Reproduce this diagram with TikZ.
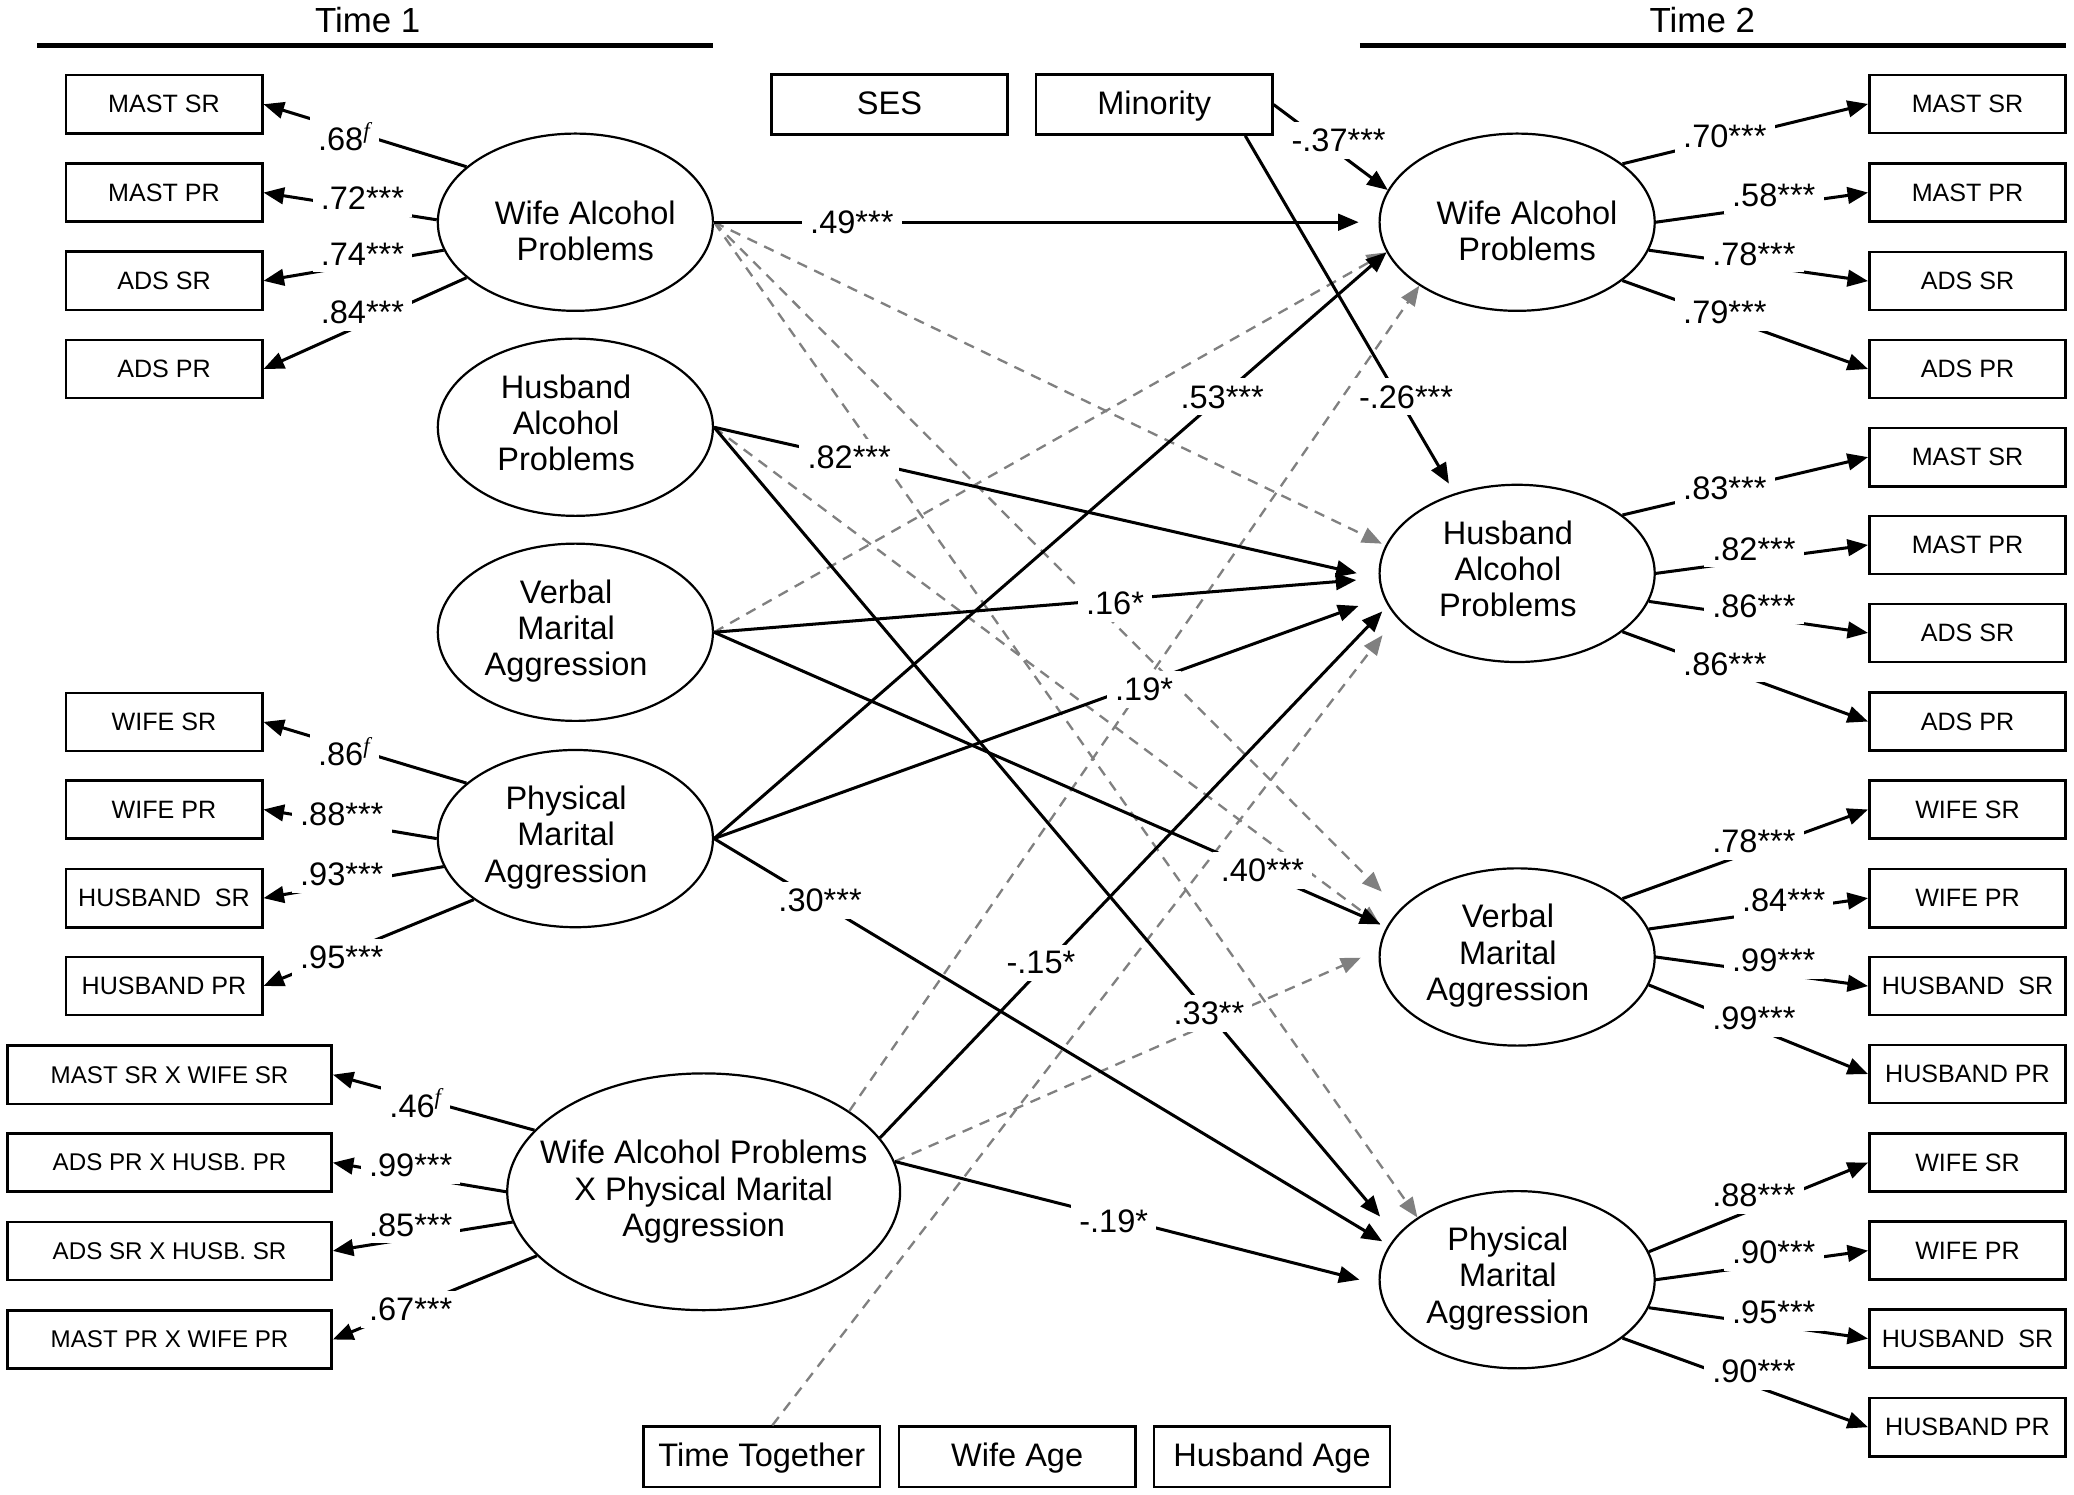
\documentclass[tikz,border=0pt]{standalone}
\usepackage{fontspec}
\setmainfont{Liberation Sans}
\newfontfamily\seriff{Liberation Serif}
\usetikzlibrary{shapes.geometric}
\usetikzlibrary{arrows.meta}
\tikzset{
    lvar/.style = {ellipse, draw=black, line width=0.95pt, inner sep=0pt, inner xsep=-2mm, align=center, minimum width=41.6mm, minimum height=26.8mm, font=\fontsize{14}{15.6}\selectfont},
    ivar/.style = {lvar, minimum width=59.4mm, minimum height=35.8mm, inner xsep=-4mm},
    ibox/.style = {rectangle, draw=black, line width=1.1pt, minimum width=29.7mm, minimum height=8.8mm, inner sep=0pt, font=\fontsize{10.8}{12}\selectfont},
    xbox/.style = {ibox, minimum width=49mm, font=\fontsize{10.4}{12}\selectfont},
    cbox/.style = {ibox, minimum width=35.7mm, minimum height=9.1mm, text height=3.5mm, text depth=0.5mm, font=\fontsize{14}{16}\selectfont},
    coef/.style = {fill=white, inner xsep=3.5pt, inner ysep=3pt, font=\fontsize{14}{16}\selectfont},
    tlabel/.style = {font=\fontsize{15}{18}\selectfont},
    edgen/.style = {-{Triangle[length=3.1mm,width=2.5mm]}, line width=1.3pt, black},
    edgegd/.style = {-{Triangle[length=3mm,width=2.4mm]}, line width=1pt, gray, dash pattern=on 1.6mm off 1.2mm}, % nonsignificant
}
\newcommand{\fixd}[1]{#1\textsuperscript{\seriff\itshape f}}
% two-line text sits low and right, three-line text a bit left
\newcommand{\twol}[2]{\raisebox{-2mm}[\height][\depth]{\hspace*{3mm}\begin{tabular}{@{}c@{}}#1\\#2\end{tabular}}}
\newcommand{\threel}[3]{\begin{tabular}{@{}c@{}}#1\\#2\\#3\end{tabular}\hspace*{2.8mm}}

\begin{document}
\begin{tikzpicture}[x=0.2mm, y=-0.2mm]
\useasboundingbox (0,0) rectangle (1568,1130);
% time headers
\node[tlabel] at (278,15) (t1) {Time 1};
\node[tlabel] at (1287,15) (t2) {Time 2};
\draw[line width=2.4pt] (28,34.4) -- (539,34.4);
\draw[line width=2.4pt] (1028,34.4) -- (1562,34.4);
%
\node[lvar] at (435,168) (wap1) {\twol{Wife Alcohol}{Problems}};
\node[lvar] at (435,323) (hap1) {\threel{Husband}{Alcohol}{Problems}};
\node[lvar] at (435,478) (vma1) {\threel{Verbal}{Marital}{Aggression}};
\node[lvar] at (435,634) (pma1) {\threel{Physical}{Marital}{Aggression}};
\node[ivar] at (532,901) (int) {Wife Alcohol Problems\\X Physical Marital\\Aggression};
\node[lvar] at (1147,168) (wap2) {\twol{Wife Alcohol}{Problems}};
\node[lvar] at (1147,433.5) (hap2) {\threel{Husband}{Alcohol}{Problems}};
\node[lvar] at (1147,723.5) (vma2) {\threel{Verbal}{Marital}{Aggression}};
\node[lvar] at (1147,967.5) (pma2) {\threel{Physical}{Marital}{Aggression}};
%
\node[cbox] at (672.5,79) (ses) {SES};
\node[cbox] at (872.6,79) (minority) {Minority};
\node[cbox] at (575.9,1101.3) (tt) {Time Together};
\node[cbox] at (769,1101.3) (wage) {Wife Age};
\node[cbox] at (961.7,1101.3) (hage) {Husband Age};
% indicators time 1
\node[ibox] at (124,78.8) (a1) {MAST SR};
\node[ibox] at (124,145.6) (a2) {MAST PR};
\node[ibox] at (124,212.3) (a3) {ADS SR};
\node[ibox] at (124,279) (a4) {ADS PR};
\node[ibox] at (124,545.8) (p1) {WIFE SR};
\node[ibox] at (124,612) (p2) {WIFE PR};
\node[ibox] at (124,679) (p3) {HUSBAND~ SR};
\node[ibox] at (124,745.4) (p4) {HUSBAND PR};
\node[xbox] at (128.2,812.5) (x1) {MAST SR X WIFE SR};
\node[xbox] at (128.2,879) (x2) {ADS PR X HUSB. PR};
\node[xbox] at (128.2,945.7) (x3) {ADS SR X HUSB. SR};
\node[xbox] at (128.2,1012.7) (x4) {MAST PR X WIFE PR};
% indicators time 2
\node[ibox] at (1487.5,78.6) (wa1) {MAST SR};
\node[ibox] at (1487.5,145.6) (wa2) {MAST PR};
\node[ibox] at (1487.5,212.5) (wa3) {ADS SR};
\node[ibox] at (1487.5,279) (wa4) {ADS PR};
\node[ibox] at (1487.5,345.6) (ha1) {MAST SR};
\node[ibox] at (1487.5,412) (ha2) {MAST PR};
\node[ibox] at (1487.5,478.5) (ha3) {ADS SR};
\node[ibox] at (1487.5,545.5) (ha4) {ADS PR};
\node[ibox] at (1487.5,612) (va1) {WIFE SR};
\node[ibox] at (1487.5,679) (va2) {WIFE PR};
\node[ibox] at (1487.5,745.5) (va3) {HUSBAND~ SR};
\node[ibox] at (1487.5,812) (va4) {HUSBAND PR};
\node[ibox] at (1487.5,879) (pa1) {WIFE SR};
\node[ibox] at (1487.5,945.5) (pa2) {WIFE PR};
\node[ibox] at (1487.5,1012) (pa3) {HUSBAND~ SR};
\node[ibox] at (1487.5,1079) (pa4) {HUSBAND PR};
%
\draw[edgen] (wap1.153) -- (a1.east);
\draw[edgen] (wap1.179) -- (a2.east);
\draw[edgen] (wap1.192) -- (a3.east);
\draw[edgen] (wap1.207) -- (a4.east);
\draw[edgen] (pma1.153) -- (p1.east);
\draw[edgen] (pma1.180) -- (p2.east);
\draw[edgen] (pma1.192) -- (p3.east);
\draw[edgen] (pma1.211) -- (p4.east);
\draw[edgen] (int.160) -- (x1.east);
\draw[edgen] (int.180) -- (x2.east);
\draw[edgen] (int.189) -- (x3.east);
\draw[edgen] (int.201) -- (x4.east);
\draw[edgen] (wap2.29) -- (wa1.west);
\draw[edgen] (wap2.0) -- (wa2.west);
\draw[edgen] (wap2.-12) -- (wa3.west);
\draw[edgen] (wap2.-29) -- (wa4.west);
\draw[edgen] (hap2.29) -- (ha1.west);
\draw[edgen] (hap2.0) -- (ha2.west);
\draw[edgen] (hap2.-12) -- (ha3.west);
\draw[edgen] (hap2.-29) -- (ha4.west);
\draw[edgen] (vma2.29) -- (va1.west);
\draw[edgen] (vma2.12) -- (va2.west);
\draw[edgen] (vma2.0) -- (va3.west);
\draw[edgen] (vma2.-12) -- (va4.west);
\draw[edgen] (pma2.12) -- (pa1.west);
\draw[edgen] (pma2.0) -- (pa2.west);
\draw[edgen] (pma2.-12) -- (pa3.west);
\draw[edgen] (pma2.-29) -- (pa4.west);
% dashed paths
\draw[edgegd, shorten >=0.6mm] (wap1.east) -- (hap2.168);
\draw[edgegd, shorten >=3.8mm] (wap1.east) -- (vma2.158);
\draw[edgegd] (wap1.east) -- (pma2.148);
\draw[edgegd, shorten >=1mm] (hap1.east) -- (vma2.168);
\draw[edgegd] (vma1.east) -- (wap2.193);
\draw[edgegd] (int.29) -- (wap2.213);
\draw[edgegd, shorten >=3mm] (int.9) -- (vma2.177);
\draw[edgegd, shorten >=3.4mm] ([xshift=1.6mm]tt.north) -- (hap2.200);
% structural paths
\draw[edgen, shorten >=3mm] (wap1.east) -- (wap2.west);
\draw[edgen, shorten >=3.4mm] (hap1.east) -- (hap2.182);
\draw[edgen, shorten >=3.4mm] (vma1.east) -- (hap2.182);
\draw[edgen] (pma1.east) -- (wap2.193);
\draw[edgen, shorten >=4mm] (pma1.east) -- (hap2.190);
\draw[edgen, shorten >=1.2mm] (pma1.east) -- (pma2.165);
\draw[edgen, shorten >=3.8mm] (hap1.east) -- (pma2.160);
\draw[edgen, shorten >=1mm] (vma1.east) -- (vma2.167);
\draw[edgen, shorten >=1.2mm] (int.17) -- (hap2.194);
\draw[edgen, shorten >=3mm] (int.9) -- (pma2.182);
\draw[edgen] (minority.east) -- (wap2.166);
\draw[edgen, shorten >=1.7mm] (minority.-19) -- (hap2.128);
% loadings
\node[coef] at (260.4,103) (l1) {\fixd{.68}};
\node[coef] at (274,150) (l2) {.72***};
\node[coef] at (274,192) (l3) {.74***};
\node[coef] at (274,236) (l4) {.84***};
\node[coef] at (260.4,568) (l5) {\fixd{.86}};
\node[coef] at (258.4,616) (l6) {.88***};
\node[coef] at (258.4,661) (l7) {.93***};
\node[coef] at (258.4,724) (l8) {.95***};
\node[coef] at (314.4,834) (l9) {\fixd{.46}};
\node[coef] at (310.5,881) (l10) {.99***};
\node[coef] at (310.5,926) (l11) {.85***};
\node[coef] at (310.5,990) (l12) {.67***};
\node[coef] at (1304,103) (r1) {.70***};
\node[coef] at (1341,148) (r2) {.58***};
\node[coef] at (1326,192) (r3) {.78***};
\node[coef] at (1304,236) (r4) {.79***};
\node[coef] at (1304,369) (r5) {.83***};
\node[coef] at (1326,415) (r6) {.82***};
\node[coef] at (1326,458) (r7) {.86***};
\node[coef] at (1304,502) (r8) {.86***};
\node[coef] at (1326,636) (r9) {.78***};
\node[coef] at (1348.5,681) (r10) {.84***};
\node[coef] at (1341,726) (r11) {.99***};
\node[coef] at (1326,770) (r12) {.99***};
\node[coef] at (1326,904) (r13) {.88***};
\node[coef] at (1341,947) (r14) {.90***};
\node[coef] at (1341,992) (r15) {.95***};
\node[coef] at (1326,1037) (r16) {.90***};
% path coefficients
\node[coef] at (644,168) (c1) {.49***};
\node[coef] at (642,346) (c2) {.82***};
\node[coef] at (843,456) (c3) {.16*};
\node[coef] at (924,300) (c4) {.53***};
\node[coef] at (865,521) (c5) {.19*};
\node[coef] at (620,681) (c6) {.30***};
\node[coef] at (914,766) (c7) {.33**};
\node[coef] at (954.5,658) (c8) {.40***};
\node[coef] at (787,728) (c9) {-.15*};
\node[coef] at (842,923) (c10) {-.19*};
\node[coef] at (1012,106) (c11) {-.37***};
\node[coef] at (1063,300) (c12) {-.26***};

\end{tikzpicture}
\end{document}
